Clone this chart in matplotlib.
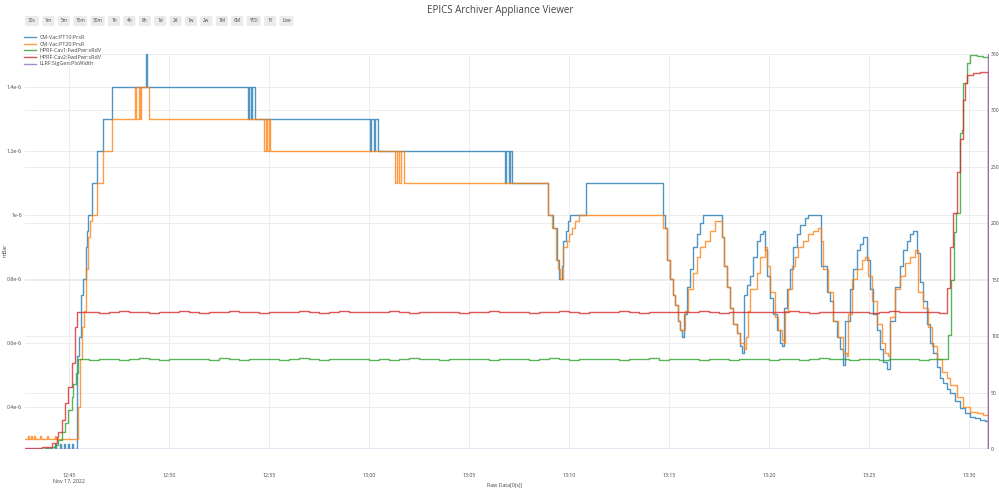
import matplotlib
matplotlib.use("Agg")
import matplotlib.pyplot as plt
import matplotlib.transforms as mtransforms
from matplotlib.patches import FancyBboxPatch
from matplotlib.lines import Line2D
import pandas as pd

DAY = "2022-11-17 "

# ---------------- data ----------------
pv_names = ["CM-Vac:PT10:PrsR", "CM-Vac:PT20:PrsR", "HPRF-Cav1:FwdPwr:sRdV",
            "HPRF-Cav2:FwdPwr:sRdV", "LLRF:SigGen:PlsWidth"]
pv_colors = ["#1f77b4", "#ff7f0e", "#2ca02c", "#d62728", "#9467bd"]

# vacuum gauges, values in units of 1e-6 mbar
pt10_times = ["12:42:48", "12:44:18", "12:44:21", "12:44:33", "12:44:36", "12:44:45", "12:44:48",
              "12:44:57", "12:45:00", "12:45:09", "12:45:12", "12:45:24", "12:45:30", "12:45:36",
              "12:45:42", "12:45:51", "12:45:54", "12:45:57", "12:46:09", "12:46:24", "12:46:42",
              "12:47:09", "12:48:51", "12:48:54", "12:53:57", "12:54:00", "12:54:06", "12:54:09",
              "12:54:18", "13:00:03", "13:00:06", "13:00:15", "13:00:18", "13:00:27", "13:06:48",
              "13:06:51", "13:07:00", "13:07:03", "13:07:09", "13:08:57", "13:09:12", "13:09:24",
              "13:09:30", "13:09:39", "13:09:42", "13:09:51", "13:09:57", "13:10:03", "13:10:51",
              "13:14:42", "13:14:48", "13:14:54", "13:15:03", "13:15:12", "13:15:18", "13:15:27",
              "13:15:33", "13:15:39", "13:15:45", "13:15:54", "13:16:03", "13:16:12", "13:16:24",
              "13:16:33", "13:16:42", "13:17:39", "13:17:45", "13:17:54", "13:18:03", "13:18:12",
              "13:18:24", "13:18:33", "13:18:39", "13:18:45", "13:18:54", "13:19:03", "13:19:12",
              "13:19:24", "13:19:33", "13:19:42", "13:19:48", "13:19:54", "13:20:03", "13:20:12",
              "13:20:24", "13:20:33", "13:20:39", "13:20:45", "13:20:54", "13:21:03", "13:21:12",
              "13:21:24", "13:21:33", "13:21:48", "13:21:57", "13:22:36", "13:22:54", "13:23:03",
              "13:23:12", "13:23:24", "13:23:33", "13:23:42", "13:23:48", "13:24:03", "13:24:12",
              "13:24:24", "13:24:33", "13:24:42", "13:24:54", "13:25:03", "13:25:12", "13:25:24",
              "13:25:33", "13:25:42", "13:25:54", "13:26:03", "13:26:18", "13:26:33", "13:26:42",
              "13:26:54", "13:27:03", "13:27:12", "13:27:24", "13:27:33", "13:27:42", "13:27:54",
              "13:28:03", "13:28:12", "13:28:24", "13:28:33", "13:28:42", "13:28:54", "13:29:03",
              "13:29:18", "13:29:33", "13:29:48", "13:30:03", "13:30:18", "13:30:33", "13:30:48",
              "13:31:00"]
pt10_values = [0.27, 0.285, 0.27, 0.285, 0.27, 0.285, 0.27,
               0.285, 0.27, 0.285, 0.27, 0.56, 0.62, 0.75,
               0.80, 0.90, 0.95, 1.0, 1.1, 1.2, 1.3,
               1.4, 1.503, 1.4, 1.3, 1.4, 1.3, 1.4,
               1.3, 1.2, 1.3, 1.2, 1.3, 1.2, 1.1,
               1.2, 1.1, 1.2, 1.1, 1.0, 0.96, 0.86,
               0.80, 0.84, 0.92, 0.95, 0.98, 1.0, 1.1,
               1.0, 0.96, 0.86, 0.80, 0.75, 0.72, 0.67,
               0.64, 0.62, 0.69, 0.775, 0.83, 0.90, 0.94,
               0.975, 1.0, 0.93, 0.84, 0.775, 0.71, 0.66,
               0.63, 0.59, 0.57, 0.75, 0.78, 0.81, 0.87,
               0.92, 0.94, 0.95, 0.89, 0.81, 0.74, 0.69,
               0.64, 0.60, 0.59, 0.71, 0.77, 0.83, 0.90,
               0.94, 0.97, 0.99, 1.0, 0.84, 0.76, 0.73,
               0.67, 0.62, 0.58, 0.53, 0.67, 0.77, 0.83,
               0.89, 0.91, 0.93, 0.86, 0.77, 0.69, 0.64,
               0.58, 0.54, 0.52, 0.67, 0.775, 0.84, 0.89,
               0.92, 0.94, 0.95, 0.88, 0.79, 0.73, 0.66,
               0.60, 0.57, 0.525, 0.49, 0.475, 0.455, 0.445,
               0.42, 0.397, 0.38, 0.37, 0.366, 0.36, 0.355,
               0.355]

pt20_times = ["12:42:48", "12:42:57", "12:43:00", "12:43:06", "12:43:09", "12:43:15", "12:43:18",
              "12:43:33", "12:43:36", "12:43:54", "12:43:57", "12:44:18", "12:44:21", "12:45:27",
              "12:45:33", "12:45:39", "12:45:45", "12:45:51", "12:45:57", "12:46:03", "12:46:09",
              "12:46:24", "12:46:42", "12:47:09", "12:48:18", "12:48:21", "12:48:30", "12:48:33",
              "12:48:36", "12:49:00", "12:54:45", "12:54:51", "12:54:54", "12:55:00", "12:55:03",
              "13:01:18", "13:01:24", "13:01:30", "13:01:36", "13:01:45", "13:08:57", "13:09:09",
              "13:09:21", "13:09:27", "13:09:33", "13:09:42", "13:09:54", "13:10:00", "13:10:09",
              "13:10:18", "13:10:30", "13:14:42", "13:14:54", "13:15:03", "13:15:12", "13:15:18",
              "13:15:27", "13:15:33", "13:15:48", "13:15:57", "13:16:12", "13:16:24", "13:16:33",
              "13:16:48", "13:17:03", "13:17:18", "13:17:39", "13:17:45", "13:17:54", "13:18:03",
              "13:18:12", "13:18:24", "13:18:33", "13:18:45", "13:18:51", "13:18:57", "13:19:03",
              "13:19:24", "13:19:33", "13:19:48", "13:19:54", "13:20:03", "13:20:18", "13:20:27",
              "13:20:39", "13:20:45", "13:20:48", "13:20:57", "13:21:09", "13:21:18", "13:21:27",
              "13:21:42", "13:21:57", "13:22:12", "13:22:27", "13:22:36", "13:22:42", "13:22:57",
              "13:23:12", "13:23:27", "13:23:42", "13:23:54", "13:23:57", "13:24:09", "13:24:24",
              "13:24:39", "13:24:48", "13:24:57", "13:25:09", "13:25:24", "13:25:39", "13:25:48",
              "13:25:57", "13:26:03", "13:26:18", "13:26:33", "13:26:48", "13:27:03", "13:27:18",
              "13:27:27", "13:27:42", "13:27:57", "13:28:09", "13:28:24", "13:28:39", "13:28:54",
              "13:29:03", "13:29:24", "13:29:42", "13:30:03", "13:30:24", "13:30:42", "13:31:00"]
pt20_values = [0.30, 0.31, 0.30, 0.31, 0.30, 0.31, 0.30,
               0.31, 0.30, 0.31, 0.30, 0.31, 0.30, 0.40,
               0.55, 0.65, 0.70, 0.83, 0.93, 0.98, 1.0,
               1.1, 1.2, 1.3, 1.4, 1.3, 1.4, 1.3,
               1.4, 1.3, 1.2, 1.3, 1.2, 1.3, 1.2,
               1.1, 1.2, 1.1, 1.2, 1.1, 1.0, 0.96,
               0.86, 0.83, 0.80, 0.90, 0.92, 0.94, 0.96,
               0.98, 1.0, 0.96, 0.86, 0.80, 0.75, 0.72,
               0.67, 0.64, 0.70, 0.77, 0.82, 0.87, 0.90,
               0.92, 0.95, 0.98, 0.93, 0.84, 0.775, 0.71,
               0.66, 0.63, 0.60, 0.58, 0.62, 0.70, 0.77,
               0.82, 0.87, 0.90, 0.84, 0.76, 0.68, 0.64,
               0.61, 0.60, 0.70, 0.77, 0.84, 0.87, 0.90,
               0.92, 0.94, 0.95, 0.96, 0.92, 0.83, 0.76,
               0.67, 0.62, 0.57, 0.56, 0.69, 0.80, 0.83,
               0.86, 0.87, 0.81, 0.73, 0.66, 0.60, 0.57,
               0.56, 0.68, 0.77, 0.81, 0.85, 0.87, 0.89,
               0.76, 0.71, 0.65, 0.59, 0.55, 0.51, 0.49,
               0.47, 0.43, 0.40, 0.385, 0.38, 0.375, 0.375]

# cavity forward power: ramp up, steady readback sampled every 30 s, final ramp
cav_steady_start = "12:45:30"
cav_steady_period = "30s"

cav1_ramp_times = ["12:42:48", "12:43:48", "12:44:09", "12:44:18", "12:44:27", "12:44:39",
                   "12:44:48", "12:44:57", "12:45:09", "12:45:12", "12:45:21", "12:45:27"]
cav1_ramp_values = [0.3, 0.8, 1.8, 3.5, 8, 15, 23, 35, 46, 58, 67, 79.5]
cav1_steady = [79.8, 79.3, 80.1, 79.6, 79.2, 79.9, 80.3, 79.5, 79.1, 79.7,
               80.0, 79.4, 79.8, 79.2, 80.2, 79.6, 79.3, 79.9, 79.5, 80.1,
               79.2, 79.7, 80.4, 79.5, 79.0, 79.8, 79.4, 80.0, 79.6, 79.3,
               79.9, 79.1, 79.7, 80.2, 79.5, 79.8, 79.2, 79.6, 80.0, 79.4,
               79.7, 79.1, 80.1, 79.5, 79.8, 79.3, 79.9, 80.3, 79.6, 79.2,
               79.7, 79.4, 80.0, 79.5, 79.1, 79.8, 79.6, 80.2, 79.3, 79.7,
               79.4, 79.9, 79.2, 80.1, 79.6, 79.0, 79.8, 79.5, 79.9, 79.3,
               80.0, 79.6, 79.2, 79.7, 80.2, 79.4, 79.8, 79.1, 79.6, 79.9,
               79.3, 79.7, 80.0, 79.5, 79.2, 79.8, 79.6]
cav1_end_times = ["13:28:57", "13:29:06", "13:29:15", "13:29:21", "13:29:33", "13:29:39",
                  "13:29:42", "13:29:54", "13:30:03", "13:30:24", "13:30:42", "13:31:00"]
cav1_end_values = [101, 150, 192, 209, 280, 283, 324, 342, 349, 348, 347.5, 347.5]

cav2_ramp_times = ["12:42:48", "12:43:39", "12:44:09", "12:44:24", "12:44:27", "12:44:39",
                   "12:44:48", "12:44:57", "12:45:09", "12:45:18", "12:45:24"]
cav2_ramp_values = [0.8, 1.5, 5, 11, 15, 26, 41, 55, 76, 108, 121]
cav2_steady = [121.0, 121.6, 120.8, 121.4, 122.0, 121.2, 121.7, 120.9, 121.5, 121.1,
               121.9, 121.3, 120.7, 121.6, 121.2, 122.1, 121.0, 121.5, 120.9, 121.8,
               121.3, 121.7, 122.3, 121.1, 120.8, 121.4, 121.9, 121.2, 121.6, 121.0,
               121.5, 122.0, 121.3, 120.9, 121.7, 121.2, 121.8, 121.4, 120.8, 121.5,
               121.1, 122.2, 121.6, 121.0, 121.4, 120.9, 121.7, 121.3, 121.9, 121.2,
               120.8, 121.6, 121.1, 121.5, 122.1, 121.3, 120.9, 121.6, 121.2, 121.8,
               121.0, 121.4, 121.9, 121.3, 120.7, 121.5, 121.1, 121.8, 121.4, 121.0,
               121.6, 122.0, 121.2, 120.9, 121.5, 121.3, 121.7, 121.1, 121.6, 120.8,
               121.4, 121.9, 121.2, 121.0, 121.5, 121.3, 120.9]
cav2_end_times = ["13:28:54", "13:29:03", "13:29:12", "13:29:24", "13:29:33", "13:29:42",
                  "13:29:48", "13:29:54", "13:30:12", "13:30:33", "13:30:57", "13:31:00"]
cav2_end_values = [143, 179, 209, 245, 275, 309, 324, 331, 333, 334, 0, 0]

pls_times = ["12:42:48", "13:30:57", "13:31:00"]
pls_values = [0, 350, 350]

left_ticks = [0.4, 0.6, 0.8, 1.0, 1.2, 1.4]
left_range = (0.26875, 1.503)
right_ticks = [0, 50, 100, 150, 200, 250, 300, 350]
right_range = (0, 350)
x_ticks = ["12:45", "12:50", "12:55", "13:00", "13:05", "13:10", "13:15", "13:20", "13:25", "13:30"]
x_range = ("12:42:48", "13:31:00")
range_buttons = ["30s", "1m", "5m", "15m", "30m", "1h", "4h", "8h", "1d", "2d", "1w", "2w",
                 "1M", "6M", "YTD", "1Y", "Live"]


def stamps(times):
    return pd.to_datetime([DAY + t for t in times])


def steady_stamps(values):
    return pd.date_range(DAY + cav_steady_start, periods=len(values), freq=cav_steady_period)


cav1_t = stamps(cav1_ramp_times).append(steady_stamps(cav1_steady)).append(stamps(cav1_end_times))
cav1_v = cav1_ramp_values + cav1_steady + cav1_end_values
cav2_t = stamps(cav2_ramp_times).append(steady_stamps(cav2_steady)).append(stamps(cav2_end_times))
cav2_v = cav2_ramp_values + cav2_steady + cav2_end_values

# ---------------- figure ----------------
plt.rcParams["font.family"] = ["Open Sans", "DejaVu Sans"]
W, H = 999, 495
fig = plt.figure(figsize=(W / 100, H / 100), dpi=100)
fig.patch.set_facecolor("white")

ax1 = fig.add_axes([25 / W, 1 - 449 / H, 964 / W, 395 / H])
ax2 = ax1.twinx()
for a in (ax1, ax2):
    for s in a.spines.values():
        s.set_visible(False)
    a.patch.set_visible(False)
ax1.set_zorder(1)
ax2.set_zorder(2)

grid_c = "#ededed"
text_c = "#444444"
lw = 1.0
alpha = 0.78

ax1.step(stamps(pt10_times), [v * 1e-6 for v in pt10_values], where="post",
         color=pv_colors[0], lw=lw, alpha=alpha)
ax1.step(stamps(pt20_times), [v * 1e-6 for v in pt20_values], where="post",
         color=pv_colors[1], lw=lw, alpha=alpha)
ax2.step(cav1_t, cav1_v, where="post", color=pv_colors[2], lw=lw, alpha=alpha)
ax2.step(cav2_t, cav2_v, where="post", color=pv_colors[3], lw=lw, alpha=alpha)
ax2.step(stamps(pls_times), pls_values, where="post", color=pv_colors[4], lw=lw, alpha=0.9)

xr = stamps(list(x_range))
ax1.set_xlim(xr[0], xr[1])
ax1.set_ylim(left_range[0] * 1e-6, left_range[1] * 1e-6)
ax2.set_ylim(*right_range)

# grid lines (kept on the lower axes so traces sit above them)
ax1.set_yticks([v * 1e-6 for v in left_ticks])
ax1.set_yticklabels([f"{v:g}e-6" for v in left_ticks])
ax1.grid(True, color=grid_c, lw=0.7)
blend = mtransforms.blended_transform_factory(ax1.transAxes, ax2.transData)
for r in right_ticks:
    ax1.plot([0, 1], [r, r], transform=blend, color=grid_c, lw=0.7, zorder=0)

xt = stamps(x_ticks)
ax1.set_xticks(xt)
ax1.set_xticklabels([x_ticks[0] + "\nNov 17, 2022"] + x_ticks[1:], linespacing=1.35)
ax2.set_yticks(right_ticks)
ax2.set_yticklabels([str(r) for r in right_ticks])

ax1.tick_params(axis="x", length=0, pad=17, labelsize=3.8, labelcolor=text_c)
ax1.tick_params(axis="y", length=0, pad=2.2, labelsize=3.8, labelcolor=text_c)
ax2.tick_params(axis="y", length=0, pad=1.5, labelsize=3.6, labelcolor=text_c)
ax2.grid(False)

# labels and title
fig.text(5 / W, 1 - 250 / H, "mBar", rotation=90, ha="center", va="center",
         fontsize=3.8, color=text_c)
fig.text(505 / W, 1 - 486 / H, "Raw Data[0(s)]", ha="center", va="center",
         fontsize=3.8, color=text_c)
fig.text(500 / W, 1 - 10 / H, "EPICS Archiver Appliance Viewer", ha="center", va="center",
         fontsize=7.0, color=text_c)

# time range buttons
cursor = 25.0
gap = 3.4
for lab in range_buttons:
    bw = 12.0 if len(lab) <= 2 else 14.0
    box = FancyBboxPatch((cursor / W, 1 - 26 / H), bw / W, 10 / H,
                         boxstyle="round,pad=0,rounding_size=0.002",
                         transform=fig.transFigure, facecolor="#ebebeb",
                         edgecolor="none", zorder=5)
    fig.patches.append(box)
    fig.text((cursor + bw / 2) / W, 1 - 21 / H, lab, ha="center", va="center",
             fontsize=3.4, color=text_c, zorder=6)
    cursor += bw + gap

# legend
handles = [Line2D([], [], color=c, lw=lw, alpha=alpha) for c in pv_colors]
fig.legend(handles, pv_names, loc="upper left", bbox_to_anchor=(24 / W, 1 - 35 / H),
           frameon=False, fontsize=3.9, labelcolor=text_c, handlelength=2.2,
           handletextpad=0.6, labelspacing=0.3, borderpad=0, borderaxespad=0)

fig.savefig("out.png", dpi=100, facecolor="white")
